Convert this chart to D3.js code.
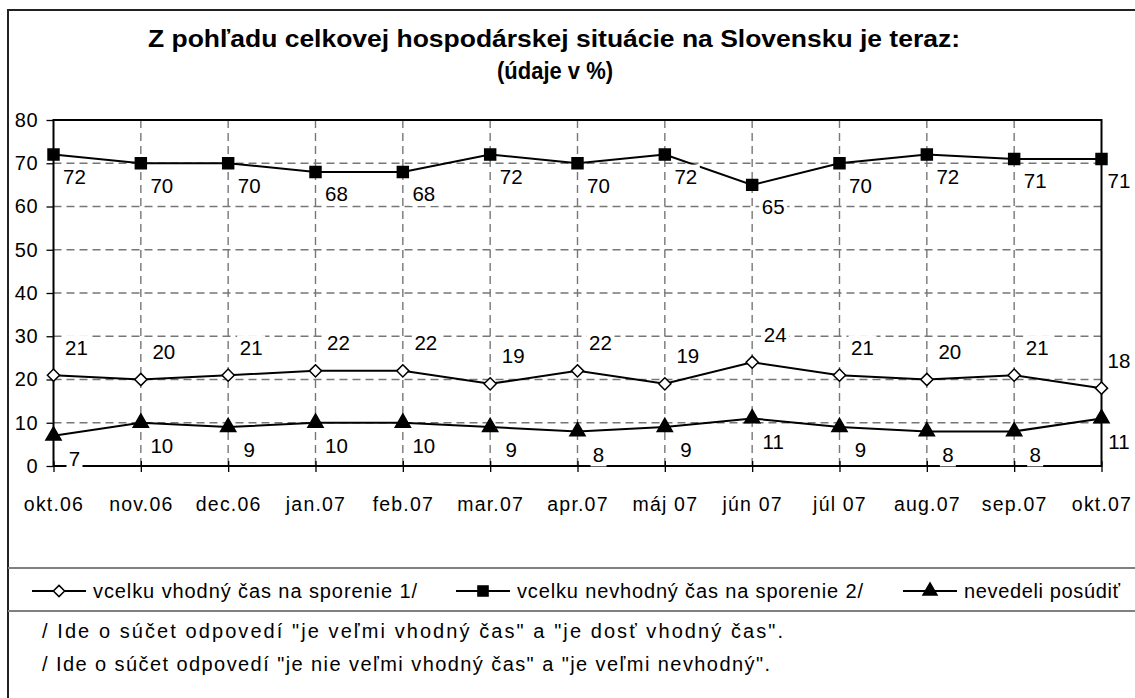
<!DOCTYPE html>
<html>
<head>
<meta charset="utf-8">
<script src="https://cdn.jsdelivr.net/npm/d3@7"></script>
<style>
  body { margin: 0; background: #fff; }
  svg { display: block; font-family: "Liberation Sans", Arial, sans-serif; }
</style>
</head>
<body>
<svg id="chart" width="1135" height="698"></svg>
<script>
// -- data -- //
const months = ['okt.06', 'nov.06', 'dec.06', 'jan.07', 'feb.07', 'mar.07', 'apr.07',
  'máj 07', 'jún 07', 'júl 07', 'aug.07', 'sep.07', 'okt.07'];
const vhodny = [21, 20, 21, 22, 22, 19, 22, 19, 24, 21, 20, 21, 18];
const nevhodny = [72, 70, 70, 68, 68, 72, 70, 72, 65, 70, 72, 71, 71];
const nevedeli = [7, 10, 9, 10, 10, 9, 8, 9, 11, 9, 8, 8, 11];
const yTicks = [0, 10, 20, 30, 40, 50, 60, 70, 80];
const seriesNames = ['vcelku vhodný čas na sporenie 1/', 'vcelku nevhodný čas na sporenie 2/', 'nevedeli posúdiť'];
const titleLines = ['Z pohľadu celkovej hospodárskej situácie na Slovensku je teraz:', '(údaje v %)'];
const notes = ['/ Ide o súčet odpovedí "je veľmi vhodný čas" a  "je dosť vhodný čas".',
  '/ Ide o súčet odpovedí "je nie veľmi vhodný čas" a "je veľmi nevhodný".'];

const svg = d3.select('#chart');

// outer border
svg.append('rect')
  .attr('x', 8).attr('y', 10).attr('width', 1140).attr('height', 700)
  .style('fill', 'none').style('stroke', '#222').style('stroke-width', 2);

// title
svg.append('text')
  .attr('x', 554).attr('y', 47).attr('text-anchor', 'middle')
  .attr('textLength', 812).attr('lengthAdjust', 'spacingAndGlyphs')
  .style('font-size', '23px').style('font-weight', 'bold')
  .text(titleLines[0]);
svg.append('text')
  .attr('x', 555).attr('y', 79).attr('text-anchor', 'middle')
  .attr('textLength', 116).attr('lengthAdjust', 'spacingAndGlyphs')
  .style('font-size', '23px').style('font-weight', 'bold')
  .text(titleLines[1]);

// -- scales -- //
const x = d3.scalePoint().domain(months).range([53.5, 1101.5]);
const y = d3.scaleLinear().domain([0, 80]).range([466, 120]);

const plot = svg.append('g');

// grid
plot.selectAll('.hgrid')
  .data(yTicks.filter(d => d > 0 && d < 80))
  .enter().append('line')
  .attr('x1', x.range()[0]).attr('x2', x.range()[1])
  .attr('y1', d => y(d)).attr('y2', d => y(d))
  .style('stroke', '#777').style('stroke-width', 1.4).style('stroke-dasharray', '8,5');
plot.selectAll('.vgrid')
  .data(months.slice(1, -1))
  .enter().append('line')
  .attr('x1', d => x(d)).attr('x2', d => x(d))
  .attr('y1', y(80)).attr('y2', y(0))
  .style('stroke', '#777').style('stroke-width', 1.4).style('stroke-dasharray', '8,5');

// axes
const yAxis = d3.axisLeft(y).tickValues(yTicks).tickSize(7).tickPadding(8);
const yg = plot.append('g').attr('transform', `translate(${x.range()[0]},0)`).call(yAxis);
yg.select('.domain').remove();
yg.selectAll('line').style('stroke', '#000').style('stroke-width', 1.3);
yg.selectAll('text').style('font-size', '20px').style('letter-spacing', '0.8px').style('fill', '#000');

const xAxis = d3.axisBottom(x).tickSize(6).tickPadding(25);
const xg = plot.append('g').attr('transform', `translate(0,${y(0)})`).call(xAxis);
xg.select('.domain').remove();
xg.selectAll('line').attr('y1', -5).style('stroke', '#000').style('stroke-width', 1.3);
xg.selectAll('text').style('font-size', '19.5px').style('letter-spacing', '1.2px').style('fill', '#000');

// frame
plot.append('rect')
  .attr('x', x.range()[0]).attr('y', y(80))
  .attr('width', x.range()[1] - x.range()[0]).attr('height', y(0) - y(80))
  .style('fill', 'none').style('stroke', '#000').style('stroke-width', 2);

// -- series -- //
const line = d3.line().x((d, i) => x(months[i])).y(d => y(d));
const series = [
  { values: vhodny, symbol: d3.symbolDiamond2, size: 95, fill: '#fff', dx: 23, dy: -28 },
  { values: nevhodny, symbol: d3.symbolSquare, size: 120, fill: '#000', dx: 21, dy: 22 },
  { values: nevedeli, symbol: d3.symbolTriangle, size: 100, fill: '#000', dx: 21, dy: 23 }
];

series.forEach(s => {
  plot.append('path')
    .datum(s.values)
    .attr('d', line)
    .style('fill', 'none').style('stroke', '#000').style('stroke-width', 2);
  plot.selectAll(null)
    .data(s.values)
    .enter().append('path')
    .attr('transform', (d, i) => `translate(${x(months[i])},${y(d)})`)
    .attr('d', d3.symbol().type(s.symbol).size(s.size))
    .style('fill', s.fill).style('stroke', '#000').style('stroke-width', 1.5);
});

// data labels (white boxes like Excel), kept inside the chart on the right
const halfW = d => String(d).length * 6;
series.forEach(s => {
  const lab = plot.selectAll(null)
    .data(s.values)
    .enter().append('g')
    .attr('transform', (d, i) => {
      const lx = Math.min(x(months[i]) + s.dx, 1131 - halfW(d));
      return `translate(${lx},${y(d) + s.dy})`;
    });
  lab.append('rect')
    .attr('x', d => -halfW(d) - 2).attr('y', -12)
    .attr('width', d => halfW(d) * 2 + 4).attr('height', 24)
    .style('fill', '#fff');
  lab.append('text')
    .attr('text-anchor', 'middle').attr('dy', '0.36em')
    .style('font-size', '20.5px')
    .text(d => d);
});

// -- legend -- //
const legend = svg.append('g');
legend.append('line').attr('x1', 8).attr('x2', 1135).attr('y1', 568).attr('y2', 568)
  .style('stroke', '#808080').style('stroke-width', 2);
legend.append('line').attr('x1', 8).attr('x2', 1135).attr('y1', 611).attr('y2', 611)
  .style('stroke', '#808080').style('stroke-width', 2);
const legendX = [32, 456, 903];
const legendTextLen = [324, 346, 156];
series.forEach((s, i) => {
  const g = legend.append('g').attr('transform', `translate(${legendX[i]},591)`);
  g.append('line').attr('x1', 0).attr('x2', 54).style('stroke', '#000').style('stroke-width', 2);
  g.append('path').attr('transform', 'translate(27,0)')
    .attr('d', d3.symbol().type(s.symbol).size(s.size * 0.85))
    .style('fill', s.fill).style('stroke', '#000').style('stroke-width', 1.5);
  g.append('text').attr('x', 61).attr('dy', '0.36em')
    .attr('textLength', legendTextLen[i]).attr('lengthAdjust', 'spacing')
    .style('font-size', '20px')
    .text(seriesNames[i]);
});

// footnotes
const noteLen = [741, 728];
svg.selectAll('.note')
  .data(notes)
  .enter().append('text')
  .attr('x', 42).attr('y', (d, i) => 638 + i * 33)
  .attr('textLength', (d, i) => noteLen[i]).attr('lengthAdjust', 'spacing')
  .style('font-size', '20px')
  .text(d => d);
</script>
</body>
</html>
